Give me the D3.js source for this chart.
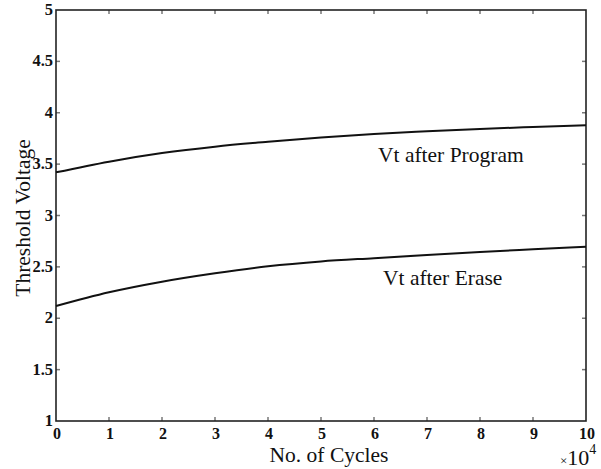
<!DOCTYPE html>
<html>
<head>
<meta charset="utf-8">
<script src="https://cdn.jsdelivr.net/npm/d3@7"></script>
<style>
  body { margin: 0; background: #fff; }
  svg { display: block; }
  text { font-family: "Liberation Serif", "DejaVu Serif", serif; fill: #111; }
</style>
</head>
<body>
<div id="chart"></div>
<script>
// cycles in units of 1e4
const cycles = [0, 1, 2, 3, 4, 5, 6, 7, 8, 9, 10];
const vtProgram = [3.42, 3.524, 3.608, 3.67, 3.717, 3.758, 3.793, 3.819, 3.842, 3.861, 3.878];
const vtErase = [2.119, 2.253, 2.356, 2.438, 2.506, 2.553, 2.585, 2.616, 2.645, 2.671, 2.696];
const xTicks = [0, 1, 2, 3, 4, 5, 6, 7, 8, 9, 10];
const yTicks = [1, 1.5, 2, 2.5, 3, 3.5, 4, 4.5, 5];

const W = 601, H = 469;
const m = {left: 56, right: 15, top: 10, bottom: 48};

const svg = d3.select("#chart").append("svg")
  .attr("width", W)
  .attr("height", H);

const x = d3.scaleLinear().domain([0, 10]).range([m.left, W - m.right]);
const y = d3.scaleLinear().domain([1, 5]).range([H - m.bottom, m.top]);

// inward ticks on all four sides
const tickLen = 4;
const tickCol = "#777";
svg.append("g").selectAll("line.xb").data(xTicks.slice(1, -1)).enter().append("line")
  .attr("x1", d => x(d)).attr("x2", d => x(d))
  .attr("y1", y(1)).attr("y2", y(1) - tickLen)
  .attr("stroke", tickCol).attr("stroke-width", 1.5);
svg.append("g").selectAll("line.xt").data(xTicks.slice(1, -1)).enter().append("line")
  .attr("x1", d => x(d)).attr("x2", d => x(d))
  .attr("y1", y(5)).attr("y2", y(5) + tickLen)
  .attr("stroke", tickCol).attr("stroke-width", 1.5);
svg.append("g").selectAll("line.yl").data(yTicks.slice(1, -1)).enter().append("line")
  .attr("y1", d => y(d)).attr("y2", d => y(d))
  .attr("x1", x(0)).attr("x2", x(0) + tickLen)
  .attr("stroke", tickCol).attr("stroke-width", 1.5);
svg.append("g").selectAll("line.yr").data(yTicks.slice(1, -1)).enter().append("line")
  .attr("y1", d => y(d)).attr("y2", d => y(d))
  .attr("x1", x(10)).attr("x2", x(10) - tickLen)
  .attr("stroke", tickCol).attr("stroke-width", 1.5);

// frame
svg.append("rect")
  .attr("x", x(0)).attr("y", y(5))
  .attr("width", x(10) - x(0)).attr("height", y(1) - y(5))
  .attr("fill", "none").attr("stroke", "#222").attr("stroke-width", 1.6);

// tick labels
svg.append("g").selectAll("text").data(xTicks).enter().append("text")
  .attr("x", d => x(d) + 1).attr("y", 439)
  .attr("text-anchor", "middle")
  .attr("font-size", 16).attr("font-weight", "bold")
  .text(d => d);
svg.append("g").selectAll("text").data(yTicks).enter().append("text")
  .attr("x", 53).attr("y", d => y(d) + 5)
  .attr("text-anchor", "end")
  .attr("font-size", 16.5).attr("font-weight", "bold")
  .text(d => d);

// exponent
const ex = svg.append("text").attr("x", 560).attr("y", 465);
ex.append("tspan").attr("font-size", 13).text("\u00d7");
ex.append("tspan").attr("font-size", 22).text("10");
ex.append("tspan").attr("font-size", 14).attr("dy", -11).text("4");

// axis titles
svg.append("text")
  .attr("x", 329).attr("y", 462)
  .attr("text-anchor", "middle").attr("font-size", 21.5)
  .text("No. of Cycles");
svg.append("text")
  .attr("transform", "translate(30,218) rotate(-90)")
  .attr("text-anchor", "middle").attr("font-size", 21.5)
  .text("Threshold Voltage");

// curves
const line = d3.line().x(d => x(d[0])).y(d => y(d[1])).curve(d3.curveMonotoneX);
[vtProgram, vtErase].forEach(s => {
  svg.append("path")
    .datum(cycles.map((c, i) => [c, s[i]]))
    .attr("d", line)
    .attr("fill", "none").attr("stroke", "#111").attr("stroke-width", 2);
});

// annotations
svg.append("text").attr("x", 378).attr("y", 162).attr("font-size", 21.5).text("Vt after Program");
svg.append("text").attr("x", 383).attr("y", 285).attr("font-size", 21.5).text("Vt after Erase");
</script>
</body>
</html>
